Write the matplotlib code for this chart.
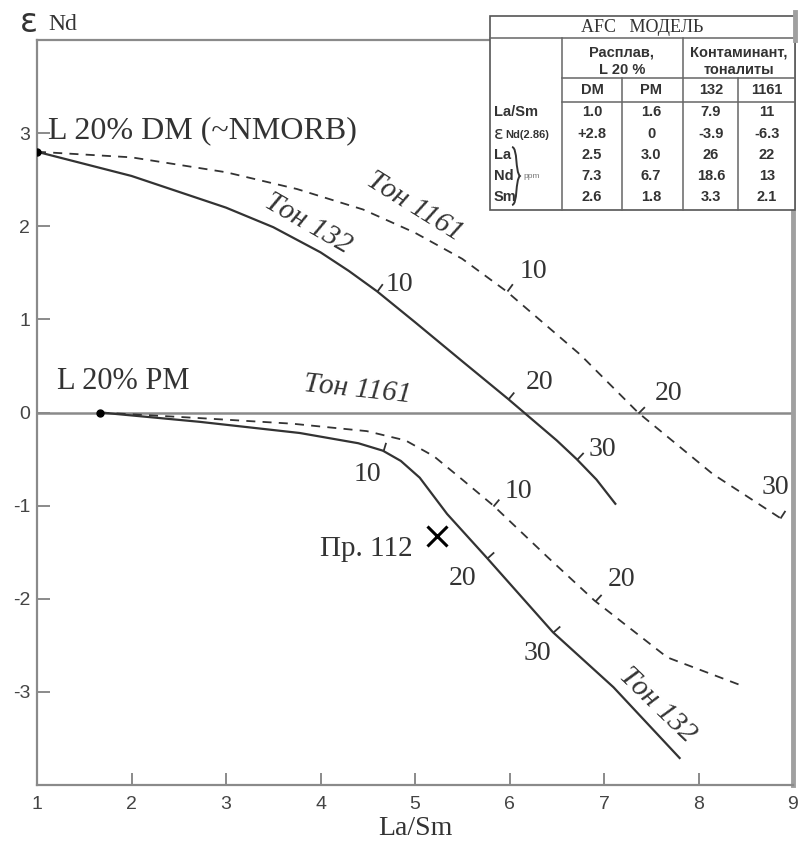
import numpy as np
import matplotlib.pyplot as plt
from matplotlib.markers import MarkerStyle
from matplotlib.path import Path
from matplotlib.patches import PathPatch
from matplotlib.transforms import Affine2D

plt.rcParams["axes.unicode_minus"] = False

# AFC-модель: кривые смешения (La/Sm, eNd)
dm132_x = [1.0, 2.0, 3.0, 3.5, 4.0, 4.3, 4.6, 5.0, 5.5, 5.98, 6.5, 6.71, 6.92, 7.12]
dm132_y = [2.8, 2.54, 2.20, 1.99, 1.72, 1.52, 1.30, 0.97, 0.55, 0.15, -0.30, -0.50, -0.72, -0.98]

dm1161_x = [1.0, 2.0, 3.0, 3.75, 4.45, 5.0, 5.5, 5.97, 6.75, 7.36, 8.15, 8.86]
dm1161_y = [2.8, 2.74, 2.58, 2.40, 2.18, 1.93, 1.65, 1.30, 0.62, 0.0, -0.66, -1.13]

pm132_x = [1.67, 2.72, 3.78, 4.4, 4.66, 4.85, 5.05, 5.34, 5.76, 6.46, 7.10, 7.80]
pm132_y = [0.0, -0.10, -0.22, -0.33, -0.41, -0.52, -0.70, -1.09, -1.56, -2.36, -2.95, -3.71]

pm1161_x = [1.67, 2.72, 3.7, 4.49, 4.9, 5.2, 5.5, 5.83, 6.4, 6.9, 7.67, 8.45]
pm1161_y = [0.0, -0.06, -0.12, -0.20, -0.30, -0.47, -0.72, -1.0, -1.55, -2.02, -2.63, -2.93]

# засечки степени ассимиляции (10, 20, 30 %)
f_labels = ["10", "20", "30"]
dm132_fx = [4.6, 5.98, 6.71]
dm1161_fx = [5.97, 7.36, 8.86]
pm132_fx = [4.66, 5.76, 6.46]
pm1161_fx = [5.83, 6.9]

# исходные расплавы и проба
start_x = [1.0, 1.67]
start_y = [2.8, 0.0]
sample_x = [5.23]
sample_y = [-1.33]

# таблица параметров модели
tab_cols = ["DM", "PM", "132", "1161"]
tab_rows = ["La/Sm", "Nd(2.86)", "La", "Nd", "Sm"]
tab_vals = [
    ["1.0", "1.6", "7.9", "11"],
    ["+2.8", "0", "-3.9", "-6.3"],
    ["2.5", "3.0", "26", "22"],
    ["7.3", "6.7", "18.6", "13"],
    ["2.6", "1.8", "3.3", "2.1"],
]

serif = "Liberation Serif"
ink = "#333333"
gray = "#8a8a8a"

fig = plt.figure(figsize=(7.99, 8.49), dpi=100)
ax = fig.add_axes([37 / 799, 1 - 785 / 849, 756 / 799, 745 / 849])
ax.set_xlim(1, 9)
ax.set_ylim(-4, 4)

for s in ["left", "bottom", "top"]:
    ax.spines[s].set_color(gray)
    ax.spines[s].set_linewidth(1.6)
ax.spines["right"].set_color("#a0a0a0")
ax.spines["right"].set_linewidth(3.5)

ax.set_xticks(range(1, 10))
ax.set_yticks(range(-3, 4))
ax.tick_params(direction="in", length=9, width=1.4, color=gray,
               labelsize=14, labelcolor="#444444")
ax.tick_params(axis="x", pad=8)
ax.tick_params(axis="y", pad=5)
for lab in ax.get_xticklabels() + ax.get_yticklabels():
    lab.set_family("Liberation Sans")

ax.axhline(0, color=gray, lw=1.8, zorder=1)

ax.plot(dm132_x, dm132_y, color=ink, lw=1.6)
ax.plot(pm132_x, pm132_y, color=ink, lw=1.6)
ax.plot(dm1161_x, dm1161_y, color=ink, lw=1.3, ls=(0, (5, 4)))
ax.plot(pm1161_x, pm1161_y, color=ink, lw=1.3, ls=(0, (5, 4)))
ax.plot(start_x, start_y, "o", color="black", ms=5, zorder=5)
ax.plot(sample_x, sample_y, "x", color="black", ms=15, mew=2.2)

# засечки перпендикулярно кривой
tick_path = Path([(0, 0), (0, 1)], [Path.MOVETO, Path.LINETO])


def zasechki(xs, ys, fx):
    for x in fx:
        i = min(np.searchsorted(xs, x) - 1, len(xs) - 2)
        i = max(i, 0)
        y = np.interp(x, xs, ys)
        a = ax.transData.transform((xs[i], ys[i]))
        b = ax.transData.transform((xs[i + 1], ys[i + 1]))
        ang = np.degrees(np.arctan2(b[1] - a[1], b[0] - a[0]))
        m = MarkerStyle(tick_path, transform=Affine2D().rotate_deg(ang))
        ax.plot([x], [y], marker=m, ms=13, mew=1.3, color=ink, ls="none")


zasechki(dm132_x, dm132_y, dm132_fx)
zasechki(dm1161_x, dm1161_y, dm1161_fx)
zasechki(pm132_x, pm132_y, pm132_fx)
zasechki(pm1161_x, pm1161_y, pm1161_fx)

# подписи засечек
tk = dict(family=serif, fontsize=20, color=ink, ha="center", va="center")
for (x, y), s in zip([(4.84, 1.37), (6.32, 0.32), (6.98, -0.40)], f_labels):
    ax.text(x, y, s, **tk)
for (x, y), s in zip([(6.25, 1.51), (7.68, 0.20), (8.81, -0.81)], f_labels):
    ax.text(x, y, s, **tk)
for (x, y), s in zip([(4.50, -0.67), (5.50, -1.78), (6.29, -2.59)], f_labels):
    ax.text(x, y, s, **tk)
for (x, y), s in zip([(6.09, -0.85), (7.19, -1.79)], f_labels):
    ax.text(x, y, s, **tk)

lb = dict(family=serif, fontsize=21, color=ink, ha="center", va="center",
          style="italic", rotation_mode="anchor")
ax.text(5.0, 2.21, "Тон 1161", rotation=-32, **lb)
ax.text(3.87, 2.03, "Тон 132", rotation=-30, **lb)
ax.text(4.39, 0.25, "Тон 1161", rotation=-6, **lb)
ax.text(7.56, -3.14, "Тон 132", rotation=-44, **lb)

ax.text(1.12, 3.03, "L 20% DM (~NMORB)", family=serif, fontsize=23,
        color=ink, ha="left", va="center")
ax.text(1.21, 0.33, "L 20% PM", family=serif, fontsize=22,
        color=ink, ha="left", va="center")
ax.text(4.97, -1.47, "Пр. 112", family=serif, fontsize=21,
        color=ink, ha="right", va="center")

ax.set_xlabel("La/Sm", family=serif, fontsize=20, color=ink, labelpad=2)

# слой в пикселях для таблицы и подписи оси Y
ov = fig.add_axes([0, 0, 1, 1], facecolor="none")
ov.set_xlim(0, 799)
ov.set_ylim(849, 0)
ov.axis("off")

ov.text(20, 22, "ε", fontsize=24, color=ink, ha="left", va="center",
        family="DejaVu Sans")
ov.text(48, 24, "Nd", fontsize=17, color=ink, ha="left", va="center",
        family=serif)

tx0, tx1, ty0, ty1 = 490, 795, 16, 210
ov.add_patch(plt.Rectangle((tx0, ty0), tx1 - tx0, ty1 - ty0, facecolor="white",
                           edgecolor="#555555", lw=1.2, zorder=2))
lc = dict(color="#666666", lw=1.1, zorder=3)
ov.plot([tx0, tx1], [38, 38], **lc)
ov.plot([562, tx1], [78, 78], **lc)
ov.plot([562, tx1], [102, 102], **lc)
ov.plot([562, 562], [38, ty1], **lc)
ov.plot([683, 683], [38, ty1], **lc)
ov.plot([622, 622], [78, ty1], **lc)
ov.plot([738, 738], [78, ty1], **lc)
ov.plot([795, 795], [12, 40], color="#a0a0a0", lw=3.5, zorder=4)

ov.text(642, 27, "AFC   МОДЕЛЬ", family=serif, fontsize=13, color=ink,
        ha="center", va="center", zorder=5)
tt = dict(family="Liberation Sans", fontsize=10.5, color=ink, ha="center",
          va="center", weight="bold", zorder=5)
ov.text(622, 52, "Расплав,", **tt)
ov.text(622, 70, "L 20 %", **tt)
ov.text(739, 52, "Контаминант,", **tt)
ov.text(739, 70, "тоналиты", **tt)

col_x = [592, 651, 711, 767]
row_y = [112, 134, 155, 176, 197]
for cx, c in zip(col_x, tab_cols):
    ov.text(cx, 90, c, **tt)
for ry, rname, vals in zip(row_y, tab_rows, tab_vals):
    if rname.startswith("Nd("):
        ov.text(494, ry, "ε", fontsize=13, color=ink, ha="left", va="center",
                family="DejaVu Sans", zorder=5)
        ov.text(505, ry + 1, rname, family="Liberation Sans", fontsize=8,
                color=ink, ha="left", va="center", weight="bold", zorder=5)
    else:
        ov.text(494, ry, rname, family="Liberation Sans", fontsize=10.5,
                color=ink, ha="left", va="center", weight="bold", zorder=5)
    for cx, v in zip(col_x, vals):
        ov.text(cx, ry, v, **tt)

# фигурная скобка для ppm
brace = Path([(512, 147), (518, 148), (515, 172), (520, 176),
              (515, 180), (518, 204), (512, 205)],
             [Path.MOVETO, Path.CURVE4, Path.CURVE4, Path.CURVE4,
              Path.CURVE4, Path.CURVE4, Path.CURVE4])
ov.add_patch(PathPatch(brace, facecolor="none", edgecolor=ink, lw=1.4,
                       zorder=5))
ov.text(523, 176, "ppm", family="Liberation Sans", fontsize=6, color="#777777",
        ha="left", va="center", zorder=5)

fig.savefig("out.png", dpi=100)
